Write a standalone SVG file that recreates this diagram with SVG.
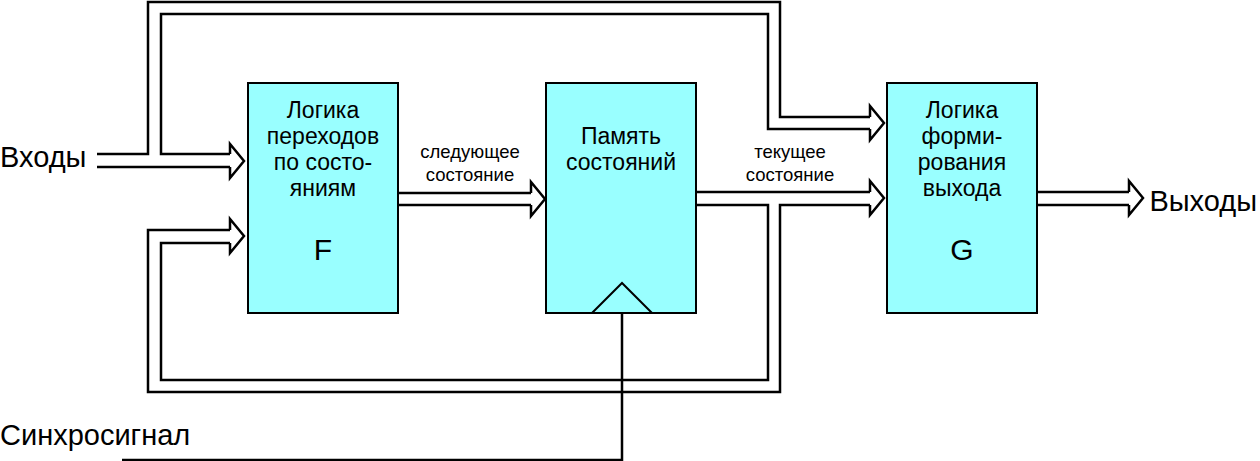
<svg xmlns="http://www.w3.org/2000/svg" width="1260" height="461" viewBox="0 0 1260 461">
<style>
.box{fill:#99ffff;stroke:#000;stroke-width:2}
.w{fill:none;stroke:#000;stroke-width:2.5}
.h{fill:#fff;stroke:#000;stroke-width:2.5;stroke-linejoin:miter}
text{font-family:"Liberation Sans",Arial,sans-serif;fill:#000}
.b{font-size:23px;text-anchor:middle}
.s{font-size:18.5px;text-anchor:middle}
.big{font-size:30px;text-anchor:middle}
.io{font-size:29px}
</style>
<rect width="1260" height="461" fill="#fff"/>
<g id="connectors">
<path class="w" d="M97,154 H148 V2 H780 V117 H870"/>
<path class="w" d="M870,129 H768 V14 H161 V154 H230"/>
<path class="h" d="M870,117 V106 L884,123 L870,140 V129"/>
<path class="w" d="M97,167 H230"/>
<path class="h" d="M230,154 V144 L244,161 L230,178 V167"/>
<path class="w" d="M230,230 H148 V392 H780 V205 H870"/>
<path class="w" d="M230,243 H161 V380 H768 V205 H696"/>
<path class="h" d="M230,230 V219 L244,236 L230,253 V243"/>
<path class="w" d="M696,192 H870"/>
<path class="h" d="M870,192 V181 L884,198 L870,215 V205"/>
<path class="w" d="M398,193 H531 M398,205 H531"/>
<path class="h" d="M531,193 V182 L545,199 L531,216 V205"/>
<path class="w" d="M1037,192 H1129 M1037,205 H1129"/>
<path class="h" d="M1129,192 V181 L1143,198 L1129,215 V205"/>
<path class="w" d="M122,460 H622 V313"/>
</g>
<g id="F">
<rect class="box" x="248" y="83" width="150" height="230"/>
<text class="b" x="323" y="118">Логика</text>
<text class="b" x="323" y="144">переходов</text>
<text class="b" x="323" y="170">по состо-</text>
<text class="b" x="323" y="196">яниям</text>
<text class="big" x="323" y="260">F</text>
</g>
<g id="M">
<rect class="box" x="546" y="83" width="150" height="230"/>
<text class="b" x="621" y="144">Память</text>
<text class="b" x="621" y="170">состояний</text>
<path fill="none" stroke="#000" stroke-width="2" d="M592,313 L622,283 L652,313"/>
</g>
<g id="G">
<rect class="box" x="887" y="83" width="150" height="230"/>
<text class="b" x="962" y="118">Логика</text>
<text class="b" x="962" y="144">форми-</text>
<text class="b" x="962" y="170">рования</text>
<text class="b" x="962" y="196">выхода</text>
<text class="big" x="962" y="260">G</text>
</g>
<g id="labels">
<text class="s" x="470" y="158">следующее</text>
<text class="s" x="470" y="181">состояние</text>
<text class="s" x="790" y="158">текущее</text>
<text class="s" x="790" y="181">состояние</text>
<text class="io" x="0" y="167">Входы</text>
<text class="io" x="1257" y="211" text-anchor="end">Выходы</text>
<text class="io" x="0" y="445">Синхросигнал</text>
</g>
</svg>
